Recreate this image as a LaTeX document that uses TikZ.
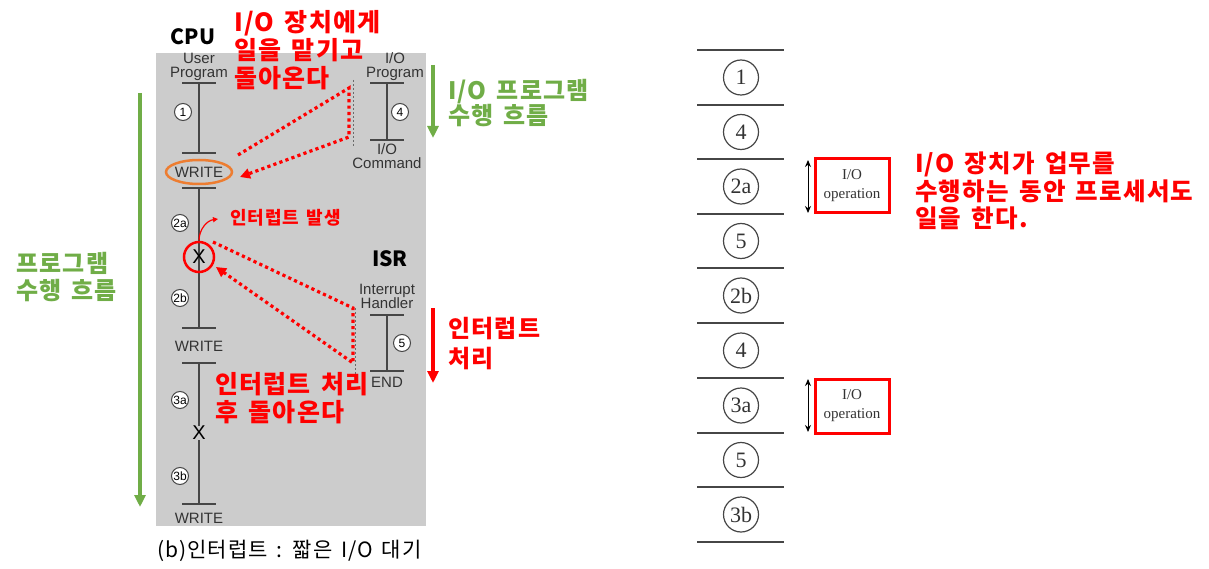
\documentclass[tikz,border=0pt]{standalone}
\usepackage{fontspec}
\usetikzlibrary{arrows.meta}
\newfontfamily\kr{Noto Sans CJK KR}
\newfontfamily\krw{Noto Sans CJK KR}[LetterSpace=5,WordSpace=1.5]
\newfontfamily\arl{Liberation Sans}
\newfontfamily\tnr{Liberation Serif}
\definecolor{bg}{RGB}{204,204,204}
\definecolor{grn}{RGB}{112,173,71}
\definecolor{org}{RGB}{237,125,49}
\definecolor{txt}{RGB}{51,51,51}
\definecolor{ln}{RGB}{70,70,70}
\begin{document}
\begin{tikzpicture}[x=1pt,y=-1pt,
  lbl/.style={font=\arl\fontsize{15}{14}\selectfont, text=txt, align=center, inner sep=0},
  tickline/.style={draw=ln, line width=1.4},
  cnum/.style={circle, draw=ln, line width=1, fill=white, minimum size=17, inner sep=0, font=\arl\fontsize{12}{12}\selectfont, text=black},
  rnum/.style={circle, draw=ln, line width=1.2, minimum size=35, inner sep=0, font=\tnr\fontsize{22}{22}\selectfont, text=txt},
  bigred/.style={font=\krw\bfseries\fontsize{25}{28}\selectfont, text=red, align=left, inner sep=0, anchor=west},
  biggrn/.style={font=\krw\bfseries\fontsize{24}{27}\selectfont, text=grn, align=left, inner sep=0, anchor=west},
  reddot/.style={draw=red, line width=3.2, dash pattern=on 3.2pt off 3.2pt},
  thindash/.style={draw=ln!80, line width=0.6, dash pattern=on 2pt off 2pt},
  opbox/.style={draw=red, line width=3, minimum width=74, minimum height=54, inner sep=0, align=center, font=\tnr\fontsize{15}{19}\selectfont, text=txt},
  hline/.style={draw=ln, line width=1.2}
]
\useasboundingbox (0,0) rectangle (1209,569);
\fill[bg] (156,53) rectangle (426,526);

% ---- left: user program timeline
\node[lbl] (up) at (199,67) {User\\Program};
\draw[tickline] (182,83) -- (216,83);
\draw[tickline] (199,83) -- (199,153);
\draw[tickline] (182,153) -- (216,153);
\node[lbl] (w1) at (199,172) {WRITE};
\draw[tickline] (182,188) -- (216,188);
\draw[tickline] (199,188) -- (199,328);
\draw[tickline] (182,328) -- (216,328);
\node[lbl] (w2) at (199,346) {WRITE};
\draw[tickline] (182,363) -- (216,363);
\draw[tickline] (199,363) -- (199,504);
\draw[tickline] (182,504) -- (216,504);
\node[lbl] (w3) at (199,518) {WRITE};

\node[cnum] (c1) at (183,112) {1};
\node[cnum] (c2a) at (180,223) {2a};
\node[cnum] (c2b) at (180,298) {2b};
\node[cnum] (c3a) at (180,400) {3a};
\node[cnum] (c3b) at (180,476) {3b};

\node[font=\arl\fontsize{20}{20}\selectfont, text=black, inner sep=0] (x1) at (199,257) {X};
\node[font=\arl\fontsize{20}{20}\selectfont, text=black, inner sep=0, fill=bg] (x2) at (199,433) {X};

\draw[org, line width=2.5] (199,172) ellipse [x radius=33, y radius=12];
\node[draw=red, line width=2.5, circle, minimum size=30, inner sep=0] (rc) at (199,257) {};

% ---- I/O program
\node[lbl] (iop) at (395,67) {I/O\\Program};
\draw[tickline] (370,83) -- (404,83);
\draw[tickline] (387,83) -- (387,140);
\draw[tickline] (370,140) -- (404,140);
\node[lbl] (ioc) at (387,156) {I/O\\Command};
\node[cnum] (c4) at (400,112) {4};

% ---- ISR
\node[lbl] (ih) at (387,296) {Interrupt\\Handler};
\draw[tickline] (370,315) -- (404,315);
\draw[tickline] (387,315) -- (387,371);
\draw[tickline] (370,371) -- (404,371);
\node[lbl] (iend) at (387,382) {END};
\node[cnum] (c5) at (402,343) {5};

\node[font=\kr\bfseries\fontsize{21}{21}\selectfont, inner sep=0] (cpu) at (193,37) {CPU};
\node[font=\kr\bfseries\fontsize{21}{21}\selectfont, inner sep=0] (isr) at (390,259) {ISR};

% thin dashed guides
\draw[thindash] (353,80) -- (353,147);
\draw[thindash] (355,308) -- (355,376);

% red dotted arrows
\coordinate (d1s) at (238,155);
\coordinate (d1a) at (349,88);
\coordinate (d1b) at (349,137);
\coordinate (d1e) at (240,177);
\draw[reddot, -{Triangle[length=10,width=10]}] (d1s) -- (d1a) -- (d1b) -- (d1e);
\coordinate (d2s) at (213,242);
\coordinate (d2a) at (353,308);
\coordinate (d2b) at (353,363);
\coordinate (d2e) at (216,267);
\draw[reddot, -{Triangle[length=10,width=10]}] (d2s) -- (d2a) -- (d2b) -- (d2e);

% interrupt occurs arrow
\node[font=\krw\bfseries\fontsize{18}{18}\selectfont, text=red, inner sep=0, anchor=west] (occ) at (230,218) {인터럽트 발생};
\draw[red, line width=1.2, -{Triangle[length=5,width=5]}] (199,240) to[bend left=40] (218,219);

% red texts
\node[bigred] (t1) at (234,50) {I/O 장치에게\\일을 맡기고\\돌아온다};
\node[bigred] (t2) at (215,398) {인터럽트 처리\\후 돌아온다};
\node[bigred, font=\krw\bfseries\fontsize{24}{30}\selectfont] (t3) at (448,344) {인터럽트\\처리};

% green texts and arrows
\node[biggrn] (g1) at (16,277) {프로그램\\수행 흐름};
\node[biggrn, font=\krw\bfseries\fontsize{24}{25}\selectfont] (g2) at (448,103) {I/O 프로그램\\수행 흐름};
\coordinate (ga1) at (140,93);
\coordinate (ga2) at (140,507);
\draw[grn, line width=3.5, -{Triangle[length=12,width=11]}] (ga1) -- (ga2);
\coordinate (gb1) at (433,65);
\coordinate (gb2) at (433,138);
\draw[grn, line width=3.5, -{Triangle[length=12,width=11]}] (gb1) -- (gb2);
\coordinate (ra1) at (433,308);
\coordinate (ra2) at (433,383);
\draw[red, line width=3.5, -{Triangle[length=12,width=11]}] (ra1) -- (ra2);

% caption
\node[font=\krw\fontsize{21}{21}\selectfont, inner sep=0, anchor=west] (cap) at (157,551) {(b)인터럽트 : 짧은 I/O 대기};

% ---- right: timeline
\foreach \y in {50,105,159,214,268,323,378,433,487,542} {
  \draw[hline] (697,\y) -- (784,\y);
}
\node[rnum] (r1) at (741,77.5) {1};
\node[rnum] (r2) at (741,132) {4};
\node[rnum] (r3) at (741,186.5) {2a};
\node[rnum] (r4) at (741,241) {5};
\node[rnum] (r5) at (741,295.5) {2b};
\node[rnum] (r6) at (741,350.5) {4};
\node[rnum] (r7) at (741,405.5) {3a};
\node[rnum] (r8) at (741,460) {5};
\node[rnum] (r9) at (741,514.5) {3b};

\node[opbox] (op1) at (852,186) {I/O\\operation};
\node[opbox] (op2) at (852,406) {I/O\\operation};
\coordinate (da1) at (808,160);
\coordinate (da2) at (808,213);
\draw[line width=1, {Stealth[length=7,width=6]}-{Stealth[length=7,width=6]}] (da1) -- (da2);
\coordinate (db1) at (808,379);
\coordinate (db2) at (808,432);
\draw[line width=1, {Stealth[length=7,width=6]}-{Stealth[length=7,width=6]}] (db1) -- (db2);

\node[bigred, font=\krw\bfseries\fontsize{24.5}{27.5}\selectfont] (t4) at (915,191) {I/O 장치가 업무를\\수행하는 동안 프로세서도\\일을 한다.};
\end{tikzpicture}
\end{document}
